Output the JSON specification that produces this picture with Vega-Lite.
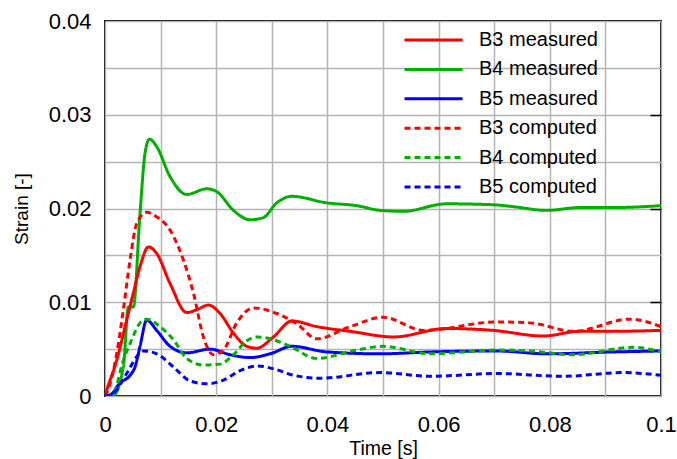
{
  "$schema": "https://vega.github.io/schema/vega-lite/v6.json",
  "width": 556,
  "height": 375,
  "autosize": {"type": "none"},
  "padding": {"left": 105, "top": 21, "right": 16, "bottom": 63},
  "config": {
    "font": "Liberation Sans",
    "view": {"stroke": "#000000", "strokeWidth": 2},
    "axis": {"labelFont": "Liberation Sans", "titleFont": "Liberation Sans", "labelColor": "#000000", "titleColor": "#000000", "titleFontWeight": "normal"}
  },
  "datasets": {
    "d": [
      {"series": "B4 measured", "t": 0, "s": 0},
      {"series": "B4 measured", "t": 0.0014, "s": 0},
      {"series": "B4 measured", "t": 0.0033, "s": 0.0031},
      {"series": "B4 measured", "t": 0.0042, "s": 0.0095},
      {"series": "B4 measured", "t": 0.0051, "s": 0.0095},
      {"series": "B4 measured", "t": 0.0063, "s": 0.0195},
      {"series": "B4 measured", "t": 0.0072, "s": 0.0259},
      {"series": "B4 measured", "t": 0.008, "s": 0.0274},
      {"series": "B4 measured", "t": 0.0093, "s": 0.0266},
      {"series": "B4 measured", "t": 0.0117, "s": 0.0234},
      {"series": "B4 measured", "t": 0.0147, "s": 0.0215},
      {"series": "B4 measured", "t": 0.0183, "s": 0.0221},
      {"series": "B4 measured", "t": 0.0201, "s": 0.0218},
      {"series": "B4 measured", "t": 0.0231, "s": 0.0198},
      {"series": "B4 measured", "t": 0.0261, "s": 0.0188},
      {"series": "B4 measured", "t": 0.0284, "s": 0.019},
      {"series": "B4 measured", "t": 0.0309, "s": 0.0206},
      {"series": "B4 measured", "t": 0.0336, "s": 0.0213},
      {"series": "B4 measured", "t": 0.0399, "s": 0.0206},
      {"series": "B4 measured", "t": 0.0453, "s": 0.0203},
      {"series": "B4 measured", "t": 0.0495, "s": 0.0198},
      {"series": "B4 measured", "t": 0.0537, "s": 0.0197},
      {"series": "B4 measured", "t": 0.0614, "s": 0.0205},
      {"series": "B4 measured", "t": 0.0698, "s": 0.0204},
      {"series": "B4 measured", "t": 0.0734, "s": 0.0202},
      {"series": "B4 measured", "t": 0.0794, "s": 0.0198},
      {"series": "B4 measured", "t": 0.0854, "s": 0.0201},
      {"series": "B4 measured", "t": 0.0914, "s": 0.0201},
      {"series": "B4 measured", "t": 0.1, "s": 0.0203},

      {"series": "B3 measured", "t": 0, "s": 0},
      {"series": "B3 measured", "t": 0.0003, "s": 0.0006},
      {"series": "B3 measured", "t": 0.0021, "s": 0.0038},
      {"series": "B3 measured", "t": 0.0039, "s": 0.0081},
      {"series": "B3 measured", "t": 0.0051, "s": 0.011},
      {"series": "B3 measured", "t": 0.0063, "s": 0.0138},
      {"series": "B3 measured", "t": 0.0078, "s": 0.0159},
      {"series": "B3 measured", "t": 0.0093, "s": 0.0152},
      {"series": "B3 measured", "t": 0.0117, "s": 0.012},
      {"series": "B3 measured", "t": 0.0147, "s": 0.0089},
      {"series": "B3 measured", "t": 0.0165, "s": 0.0092},
      {"series": "B3 measured", "t": 0.0186, "s": 0.0097},
      {"series": "B3 measured", "t": 0.0207, "s": 0.0088},
      {"series": "B3 measured", "t": 0.0231, "s": 0.0067},
      {"series": "B3 measured", "t": 0.0255, "s": 0.0053},
      {"series": "B3 measured", "t": 0.0273, "s": 0.0051},
      {"series": "B3 measured", "t": 0.0303, "s": 0.0063},
      {"series": "B3 measured", "t": 0.0336, "s": 0.008},
      {"series": "B3 measured", "t": 0.0381, "s": 0.0074},
      {"series": "B3 measured", "t": 0.0441, "s": 0.0069},
      {"series": "B3 measured", "t": 0.0519, "s": 0.0063},
      {"series": "B3 measured", "t": 0.0614, "s": 0.0072},
      {"series": "B3 measured", "t": 0.0698, "s": 0.007},
      {"series": "B3 measured", "t": 0.0788, "s": 0.0064},
      {"series": "B3 measured", "t": 0.0854, "s": 0.0069},
      {"series": "B3 measured", "t": 0.0914, "s": 0.0069},
      {"series": "B3 measured", "t": 0.1, "s": 0.007},

      {"series": "B5 measured", "t": 0, "s": 0},
      {"series": "B5 measured", "t": 0.0009, "s": 0.0001},
      {"series": "B5 measured", "t": 0.0027, "s": 0.0014},
      {"series": "B5 measured", "t": 0.0045, "s": 0.0022},
      {"series": "B5 measured", "t": 0.0054, "s": 0.0031},
      {"series": "B5 measured", "t": 0.0063, "s": 0.0053},
      {"series": "B5 measured", "t": 0.0075, "s": 0.0081},
      {"series": "B5 measured", "t": 0.0093, "s": 0.007},
      {"series": "B5 measured", "t": 0.0117, "s": 0.0053},
      {"series": "B5 measured", "t": 0.0147, "s": 0.0046},
      {"series": "B5 measured", "t": 0.0189, "s": 0.005},
      {"series": "B5 measured", "t": 0.0225, "s": 0.0044},
      {"series": "B5 measured", "t": 0.0261, "s": 0.0041},
      {"series": "B5 measured", "t": 0.0297, "s": 0.0045},
      {"series": "B5 measured", "t": 0.0336, "s": 0.0053},
      {"series": "B5 measured", "t": 0.0399, "s": 0.0047},
      {"series": "B5 measured", "t": 0.0495, "s": 0.0045},
      {"series": "B5 measured", "t": 0.0585, "s": 0.0047},
      {"series": "B5 measured", "t": 0.0705, "s": 0.0048},
      {"series": "B5 measured", "t": 0.0794, "s": 0.0045},
      {"series": "B5 measured", "t": 0.0914, "s": 0.0047},
      {"series": "B5 measured", "t": 0.1, "s": 0.0048},

      {"series": "B3 computed", "t": 0, "s": 0},
      {"series": "B3 computed", "t": 0.0003, "s": 0.0003},
      {"series": "B3 computed", "t": 0.0021, "s": 0.0045},
      {"series": "B3 computed", "t": 0.0033, "s": 0.0092},
      {"series": "B3 computed", "t": 0.0045, "s": 0.0145},
      {"series": "B3 computed", "t": 0.0057, "s": 0.0184},
      {"series": "B3 computed", "t": 0.0075, "s": 0.0196},
      {"series": "B3 computed", "t": 0.0093, "s": 0.0191},
      {"series": "B3 computed", "t": 0.0117, "s": 0.0177},
      {"series": "B3 computed", "t": 0.0141, "s": 0.0145},
      {"series": "B3 computed", "t": 0.0159, "s": 0.011},
      {"series": "B3 computed", "t": 0.0177, "s": 0.0063},
      {"series": "B3 computed", "t": 0.0195, "s": 0.0044},
      {"series": "B3 computed", "t": 0.0213, "s": 0.0049},
      {"series": "B3 computed", "t": 0.0237, "s": 0.0078},
      {"series": "B3 computed", "t": 0.0267, "s": 0.0094},
      {"series": "B3 computed", "t": 0.0309, "s": 0.0088},
      {"series": "B3 computed", "t": 0.0345, "s": 0.0077},
      {"series": "B3 computed", "t": 0.0381, "s": 0.0061},
      {"series": "B3 computed", "t": 0.0441, "s": 0.0074},
      {"series": "B3 computed", "t": 0.05, "s": 0.0084},
      {"series": "B3 computed", "t": 0.0573, "s": 0.007},
      {"series": "B3 computed", "t": 0.0705, "s": 0.0079},
      {"series": "B3 computed", "t": 0.0764, "s": 0.0078},
      {"series": "B3 computed", "t": 0.0843, "s": 0.0069},
      {"series": "B3 computed", "t": 0.0944, "s": 0.0082},
      {"series": "B3 computed", "t": 0.1, "s": 0.0074},

      {"series": "B4 computed", "t": 0, "s": 0},
      {"series": "B4 computed", "t": 0.0015, "s": 0.0003},
      {"series": "B4 computed", "t": 0.0033, "s": 0.0038},
      {"series": "B4 computed", "t": 0.0048, "s": 0.006},
      {"series": "B4 computed", "t": 0.0063, "s": 0.0078},
      {"series": "B4 computed", "t": 0.0075, "s": 0.0082},
      {"series": "B4 computed", "t": 0.0099, "s": 0.0074},
      {"series": "B4 computed", "t": 0.0123, "s": 0.006},
      {"series": "B4 computed", "t": 0.0147, "s": 0.004},
      {"series": "B4 computed", "t": 0.0177, "s": 0.0033},
      {"series": "B4 computed", "t": 0.0207, "s": 0.0034},
      {"series": "B4 computed", "t": 0.0231, "s": 0.0044},
      {"series": "B4 computed", "t": 0.0255, "s": 0.0059},
      {"series": "B4 computed", "t": 0.0273, "s": 0.0063},
      {"series": "B4 computed", "t": 0.0303, "s": 0.006},
      {"series": "B4 computed", "t": 0.0333, "s": 0.0053},
      {"series": "B4 computed", "t": 0.0381, "s": 0.004},
      {"series": "B4 computed", "t": 0.0453, "s": 0.0049},
      {"series": "B4 computed", "t": 0.05, "s": 0.0053},
      {"series": "B4 computed", "t": 0.0585, "s": 0.0045},
      {"series": "B4 computed", "t": 0.0705, "s": 0.0049},
      {"series": "B4 computed", "t": 0.0764, "s": 0.0048},
      {"series": "B4 computed", "t": 0.0843, "s": 0.0044},
      {"series": "B4 computed", "t": 0.095, "s": 0.0052},
      {"series": "B4 computed", "t": 0.1, "s": 0.0047},

      {"series": "B5 computed", "t": 0, "s": 0},
      {"series": "B5 computed", "t": 0.0015, "s": 0.0003},
      {"series": "B5 computed", "t": 0.0039, "s": 0.0024},
      {"series": "B5 computed", "t": 0.0057, "s": 0.0042},
      {"series": "B5 computed", "t": 0.0069, "s": 0.0048},
      {"series": "B5 computed", "t": 0.0093, "s": 0.0045},
      {"series": "B5 computed", "t": 0.0123, "s": 0.0031},
      {"series": "B5 computed", "t": 0.0153, "s": 0.0016},
      {"series": "B5 computed", "t": 0.0183, "s": 0.0013},
      {"series": "B5 computed", "t": 0.0213, "s": 0.0017},
      {"series": "B5 computed", "t": 0.0243, "s": 0.0027},
      {"series": "B5 computed", "t": 0.0273, "s": 0.0032},
      {"series": "B5 computed", "t": 0.0309, "s": 0.0028},
      {"series": "B5 computed", "t": 0.0333, "s": 0.0023},
      {"series": "B5 computed", "t": 0.0387, "s": 0.0019},
      {"series": "B5 computed", "t": 0.0495, "s": 0.0025},
      {"series": "B5 computed", "t": 0.0585, "s": 0.0021},
      {"series": "B5 computed", "t": 0.0705, "s": 0.0024},
      {"series": "B5 computed", "t": 0.0824, "s": 0.0021},
      {"series": "B5 computed", "t": 0.0932, "s": 0.0025},
      {"series": "B5 computed", "t": 0.1, "s": 0.0022}
    ]
  },
  "data": {"name": "d"},
  "resolve": {"axis": {"y": "independent"}},
  "layer": [
    {
      "mark": {"type": "line", "strokeWidth": 3, "interpolate": "monotone", "clip": true},
      "encoding": {
        "x": {
          "field": "t", "type": "quantitative",
          "scale": {"domain": [0, 0.1], "nice": false, "zero": false},
          "axis": {
            "title": "Time [s]", "titleFontSize": 19.5, "titlePadding": 4,
            "values": [0, 0.01, 0.02, 0.03, 0.04, 0.05, 0.06, 0.07, 0.08, 0.09, 0.1],
            "format": ".2~f",
            "labelExpr": "round(datum.value * 1000) % 20 == 0 ? datum.label : ''",
            "labelFontSize": 22, "labelPadding": 18, "ticks": false, "domain": false,
            "grid": true, "gridColor": "#b4b4b4", "gridWidth": 1.5, "labelFlush": false
          }
        },
        "y": {
          "field": "s", "type": "quantitative",
          "scale": {"domain": [0, 0.04], "nice": false},
          "axis": {
            "title": "Strain [-]", "titleFontSize": 19, "titlePadding": 17,
            "values": [0, 0.005, 0.01, 0.015, 0.02, 0.025, 0.03, 0.035, 0.04],
            "format": ".3~f",
            "labelExpr": "round(datum.value * 1000) % 10 == 0 ? datum.label : ''",
            "labelFontSize": 22, "labelPadding": 14, "ticks": false, "domain": false,
            "grid": true, "gridColor": "#b4b4b4", "gridWidth": 1.5
          }
        },
        "color": {
          "field": "series", "type": "nominal",
          "scale": {
            "domain": ["B3 measured", "B4 measured", "B5 measured", "B3 computed", "B4 computed", "B5 computed"],
            "range": ["#ff0000", "#00b000", "#0000ff", "#ff0000", "#00b000", "#0000ff"]
          },
          "legend": {
            "title": null, "orient": "none", "legendX": 298, "legendY": 9,
            "symbolType": "stroke", "symbolSize": 3364, "symbolStrokeWidth": 3,
            "labelFontSize": 20, "labelFont": "Liberation Sans", "labelColor": "#000000",
            "labelOffset": 15, "rowPadding": 9.4, "clipHeight": 20, "labelLimit": 300
          }
        },
        "strokeDash": {
          "field": "series", "type": "nominal",
          "scale": {
            "domain": ["B3 measured", "B4 measured", "B5 measured", "B3 computed", "B4 computed", "B5 computed"],
            "range": [[1, 0], [1, 0], [1, 0], [6, 4], [6, 4], [6, 4]]
          },
          "legend": {
            "title": null, "orient": "none", "legendX": 298, "legendY": 9,
            "symbolType": "stroke", "symbolSize": 3364, "symbolStrokeWidth": 3,
            "labelFontSize": 20, "labelFont": "Liberation Sans", "labelColor": "#000000",
            "labelOffset": 15, "rowPadding": 9.4, "clipHeight": 20, "labelLimit": 300
          }
        }
      }
    },
    {
      "mark": {"type": "line", "opacity": 0, "clip": true},
      "encoding": {
        "x": {"field": "t", "type": "quantitative"},
        "y": {
          "field": "s", "type": "quantitative",
          "axis": {
            "orient": "right", "title": null, "labels": false, "grid": false, "domain": false,
            "values": [0.01, 0.02, 0.03], "ticks": true, "tickSize": -11, "tickWidth": 1.5, "tickColor": "#000000"
          }
        }
      }
    }
  ]
}
